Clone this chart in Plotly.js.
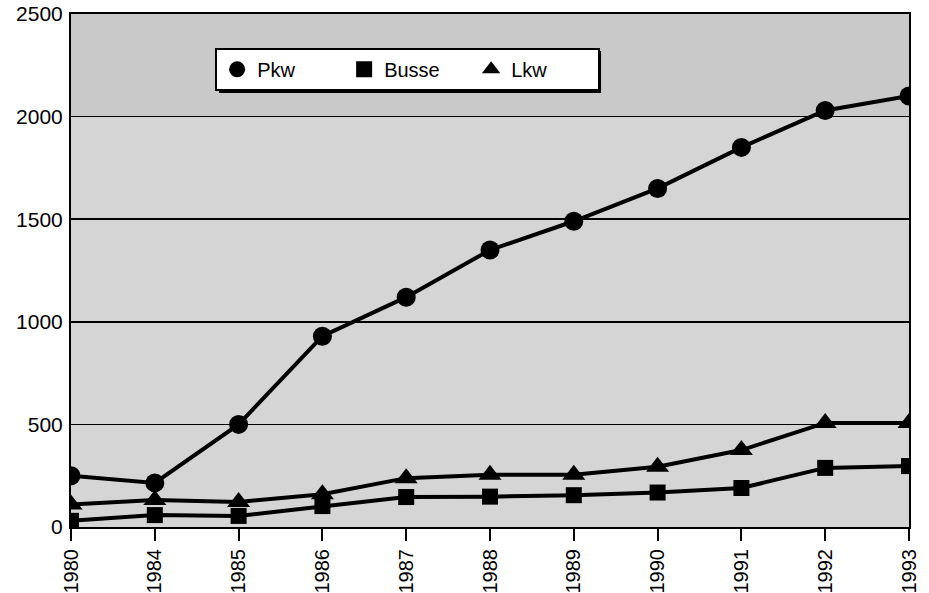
<!DOCTYPE html>
<html>
<head>
<meta charset="utf-8">
<script src="https://cdn.plot.ly/plotly-3.0.1.min.js"></script>
<style>html,body{margin:0;padding:0;background:#fff;}#chart{width:929px;height:593px;}</style>
</head>
<body>
<div id="chart"></div>
<script>
const years = ['1980','1984','1985','1986','1987','1988','1989','1990','1991','1992','1993'];
const pkw   = [250, 215, 500, 930, 1120, 1350, 1490, 1650, 1850, 2030, 2100];
const busse = [30, 58, 54, 102, 146, 148, 155, 168, 190, 288, 297];
const lkw   = [110, 131, 122, 160, 238, 255, 255, 294, 375, 507, 507];
const yTicks = [0, 500, 1000, 1500, 2000, 2500];
const seriesNames = ['Pkw', 'Busse', 'Lkw'];
const symbols = ['circle', 'square', 'triangle-up'];
const sizes = [19, 16, 20];
const seriesData = [pkw, busse, lkw];

const traces = [];
seriesData.forEach((vals, i) => {
  traces.push({x: years, y: vals, name: seriesNames[i], mode: 'lines+markers',
    showlegend: false, line: {color: '#000', width: 4},
    marker: {symbol: symbols[i], size: sizes[i], color: '#000'}});
});
seriesData.forEach((vals, i) => {
  traces.push({x: [years[0]], y: [null], name: seriesNames[i], mode: 'markers',
    showlegend: true,
    marker: {symbol: symbols[i], size: sizes[i], color: '#000'}});
});

const fam = 'Liberation Sans, Arial, sans-serif';
const layout = {
  width: 929, height: 593,
  margin: {l: 71, r: 20, t: 14, b: 66},
  paper_bgcolor: '#fff',
  plot_bgcolor: '#d5d5d5',
  font: {family: fam, size: 20, color: '#000'},
  showlegend: true,
  legend: {
    orientation: 'h', x: 0.172, y: 0.934, xanchor: 'left', yanchor: 'top',
    bgcolor: '#fff', bordercolor: '#000', borderwidth: 2,
    font: {family: fam, size: 20, color: '#000'},
    entrywidth: 82, entrywidthmode: 'pixels', itemclick: false
  },
  xaxis: {
    type: 'category', range: [0, years.length - 1],
    showline: true, linecolor: '#000', linewidth: 2, mirror: true,
    ticks: 'outside', ticklen: 12, tickwidth: 2, tickcolor: '#000',
    tickangle: -90, showgrid: false, zeroline: false,
    tickfont: {family: fam, size: 20, color: '#000'}
  },
  yaxis: {
    range: [0, 2500], tickvals: yTicks, ticktext: yTicks.map(String),
    showline: true, linecolor: '#000', linewidth: 2, mirror: true,
    ticks: '', showgrid: true, gridcolor: '#000', gridwidth: 1.5,
    zeroline: false, ticklabelstandoff: 2,
    tickfont: {family: fam, size: 21, color: '#000'}
  },
  shapes: [
    {type: 'rect', xref: 'paper', yref: 'paper', layer: 'below',
     x0: 0, x1: 1, y0: 0.8, y1: 1, fillcolor: '#c9c9c9', line: {width: 0}},
    {type: 'rect', xref: 'paper', yref: 'paper', layer: 'above',
     x0: 0.1766, x1: 0.6325, y0: 0.846, y1: 0.9279, fillcolor: '#000', line: {width: 0}}
  ]
};

Plotly.newPlot('chart', traces, layout, {displayModeBar: false, staticPlot: true});
</script>
</body>
</html>
